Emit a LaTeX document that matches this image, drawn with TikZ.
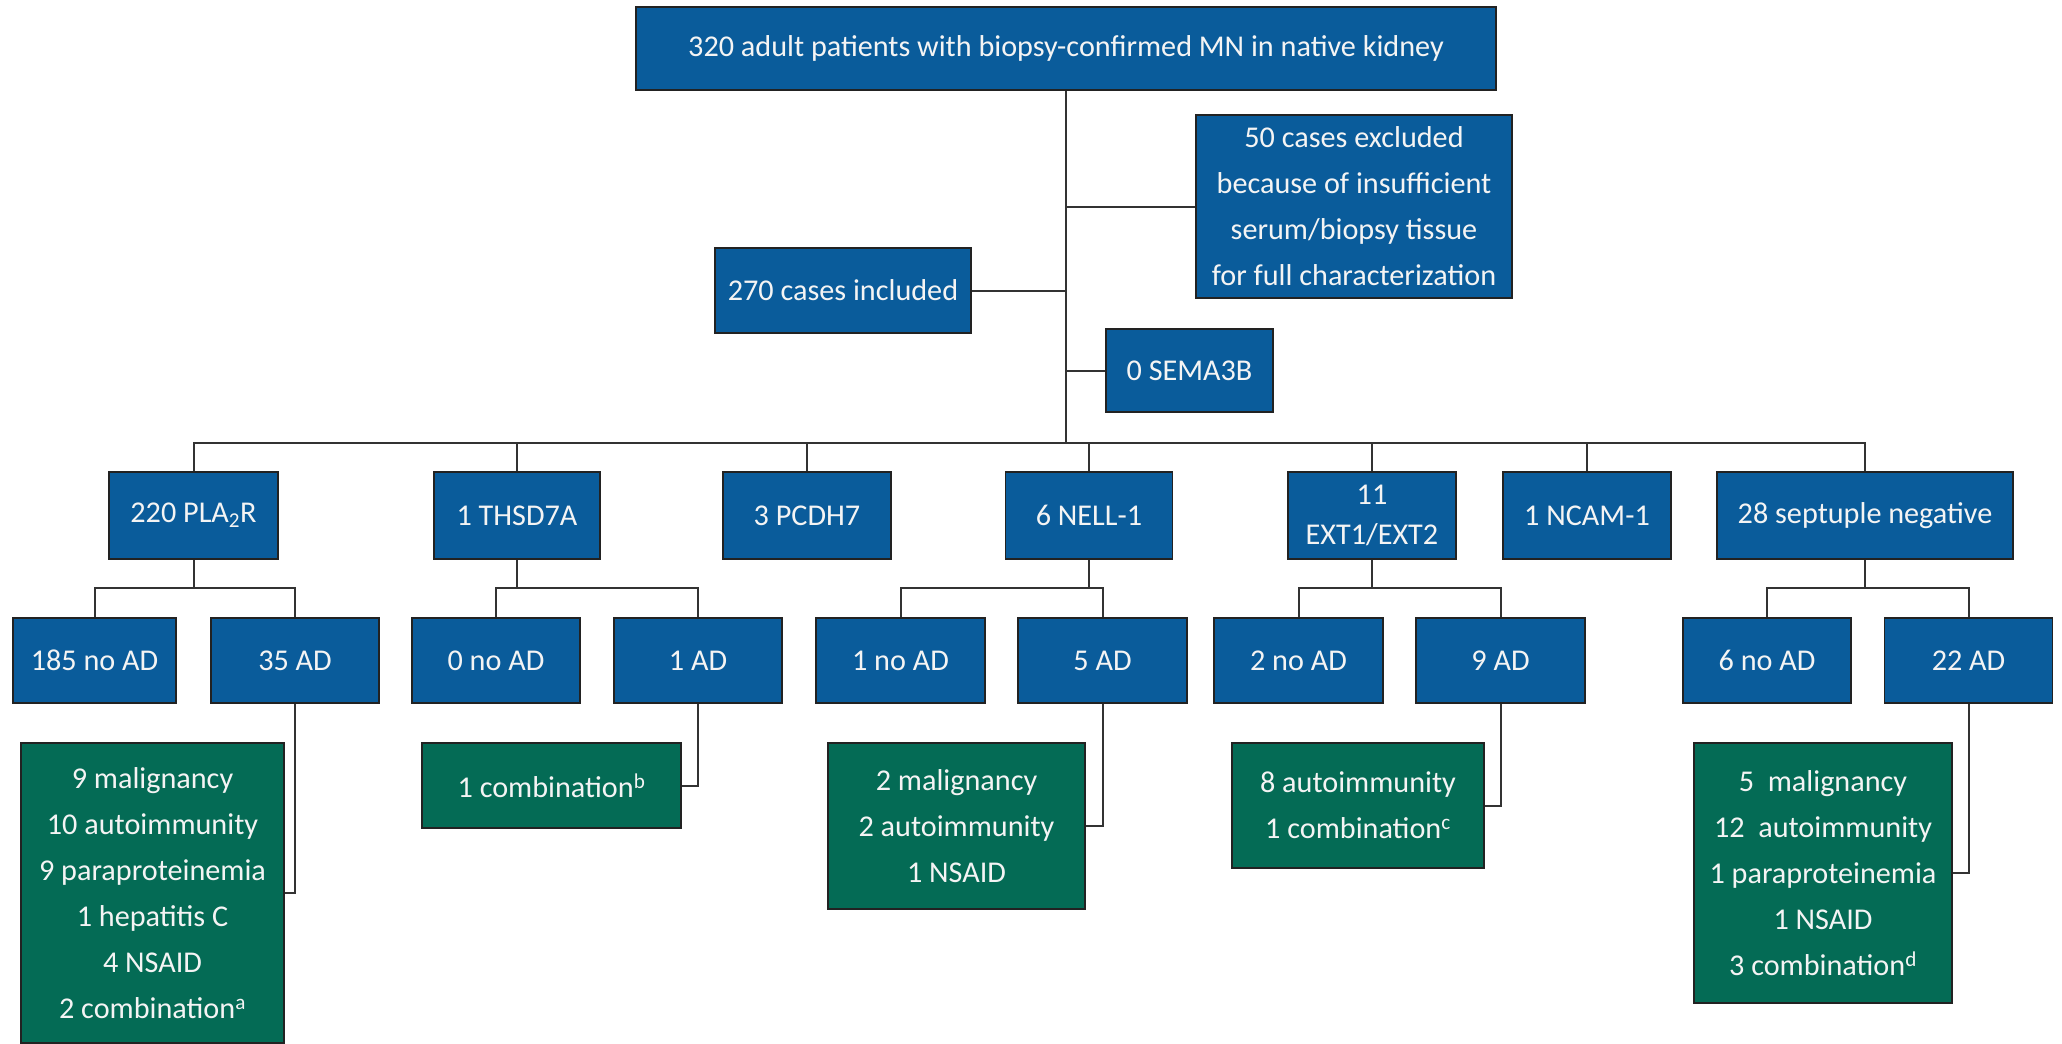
\documentclass[tikz,border=0pt]{standalone}
\usepackage{fontspec}
\setmainfont{Carlito}
\definecolor{boxblue}{HTML}{0A5C9B}
\definecolor{boxgreen}{HTML}{046B55}
\definecolor{edge}{HTML}{222222}
\definecolor{wire}{HTML}{333333}
\definecolor{txt}{HTML}{F4F4F4}
\begin{document}
\begin{tikzpicture}[x=1pt,y=-1pt,
  bluebox/.style={draw=edge, line width=1.6pt, fill=boxblue, text=txt, inner sep=0pt, align=center,
    font=\fontsize{30.2}{46}\selectfont},
  greenbox/.style={draw=edge, line width=1.6pt, fill=boxgreen, text=txt, inner sep=0pt, align=center,
    font=\fontsize{30.2}{46}\selectfont},
  wirestyle/.style={draw=wire, line width=2pt}]
\useasboundingbox[fill=white] (0,0) rectangle (2062,1044);

% top level
\node[bluebox, minimum width=860pt, minimum height=83pt] (top) at (1066,48.5) {320 adult patients with biopsy-confirmed MN in native kidney};
\node[bluebox, minimum width=316pt, minimum height=183pt] (excl) at (1354,206.5) {50 cases excluded\\because of insufficient\\serum/biopsy tissue\\for full characterization};
\node[bluebox, minimum width=256pt, minimum height=85pt] (incl) at (843,290.5) {270 cases included};
\node[bluebox, minimum width=167pt, minimum height=83pt] (sema) at (1189.5,370.5) {0 SEMA3B};
\coordinate (bus) at (1066,443);

% antigen level
\node[bluebox, minimum width=169pt, minimum height=87pt] (pla) at (193.5,515.5) {220 PLA\textsubscript{2}R};
\node[bluebox, minimum width=166pt, minimum height=87pt] (thsd) at (517,515.5) {1 THSD7A};
\node[bluebox, minimum width=168pt, minimum height=87pt] (pcdh) at (807,515.5) {3 PCDH7};
\node[bluebox, minimum width=167pt, minimum height=87pt] (nell) at (1089,515.5) {6 NELL-1};
\node[bluebox, minimum width=168pt, minimum height=87pt, font=\fontsize{30.2}{40}\selectfont] (ext) at (1372,515.5) {11\\EXT1/EXT2};
\node[bluebox, minimum width=168pt, minimum height=87pt] (ncam) at (1587,515.5) {1 NCAM-1};
\node[bluebox, minimum width=296pt, minimum height=87pt] (sept) at (1865,515.5) {28 septuple negative};

% AD level
\node[bluebox, minimum width=163pt, minimum height=85pt] (pno) at (94.5,660.5) {185 no AD};
\node[bluebox, minimum width=168pt, minimum height=85pt] (pad) at (295,660.5) {35 AD};
\node[bluebox, minimum width=168pt, minimum height=85pt] (tno) at (496,660.5) {0 no AD};
\node[bluebox, minimum width=168pt, minimum height=85pt] (tad) at (698,660.5) {1 AD};
\node[bluebox, minimum width=169pt, minimum height=85pt] (nno) at (900.5,660.5) {1 no AD};
\node[bluebox, minimum width=169pt, minimum height=85pt] (nad) at (1102.5,660.5) {5 AD};
\node[bluebox, minimum width=169pt, minimum height=85pt] (eno) at (1298.5,660.5) {2 no AD};
\node[bluebox, minimum width=169pt, minimum height=85pt] (ead) at (1500.5,660.5) {9 AD};
\node[bluebox, minimum width=168pt, minimum height=85pt] (sno) at (1767,660.5) {6 no AD};
\node[bluebox, minimum width=168pt, minimum height=85pt] (sad) at (1968.5,660.5) {22 AD};

% detail level
\node[greenbox, minimum width=263pt, minimum height=300pt] (gp) at (152.5,893) {9 malignancy\\10 autoimmunity\\9 paraproteinemia\\1 hepatitis C\\4 NSAID\\2 combination\textsuperscript{a}};
\node[greenbox, minimum width=259pt, minimum height=85pt] (gt) at (551.5,785.5) {1 combination\textsuperscript{b}};
\node[greenbox, minimum width=257pt, minimum height=166pt] (gn) at (956.5,826) {2 malignancy\\2 autoimmunity\\1 NSAID};
\node[greenbox, minimum width=252pt, minimum height=125pt] (ge) at (1358,805.5) {8 autoimmunity\\1 combination\textsuperscript{c}};
\node[greenbox, minimum width=258pt, minimum height=260pt] (gs) at (1823,873) {5~~malignancy\\12~~autoimmunity\\1 paraproteinemia\\1 NSAID\\3 combination\textsuperscript{d}};

% connectors
\draw[wirestyle] (top.south) -- (bus);
\draw[wirestyle] (excl.west) -- (excl.west -| top.south);
\draw[wirestyle] (incl.east) -- (incl.east -| top.south);
\draw[wirestyle] (sema.west) -- (sema.west -| top.south);
\draw[wirestyle] (pla.north) |- (bus) -| (sept.north);
\foreach \n in {thsd,pcdh,nell,ext,ncam} \draw[wirestyle] (\n.north) -- (\n.north |- bus);

\coordinate (pj) at (193.5,588);
\coordinate (tj) at (517,588);
\coordinate (nj) at (1089,588);
\coordinate (ej) at (1372,588);
\coordinate (sj) at (1865,588);
\draw[wirestyle] (pla.south) -- (pj);
\draw[wirestyle] (pno.north) |- (pj) -| (pad.north);
\draw[wirestyle] (thsd.south) -- (tj);
\draw[wirestyle] (tno.north) |- (tj) -| (tad.north);
\draw[wirestyle] (nell.south) -- (nj);
\draw[wirestyle] (nno.north) |- (nj) -| (nad.north);
\draw[wirestyle] (ext.south) -- (ej);
\draw[wirestyle] (eno.north) |- (ej) -| (ead.north);
\draw[wirestyle] (sept.south) -- (sj);
\draw[wirestyle] (sno.north) |- (sj) -| (sad.north);

\draw[wirestyle] (pad.south) |- (gp.east);
\draw[wirestyle] (tad.south) |- (gt.east);
\draw[wirestyle] (nad.south) |- (gn.east);
\draw[wirestyle] (ead.south) |- (ge.east);
\draw[wirestyle] (sad.south) |- (gs.east);
\end{tikzpicture}
\end{document}
